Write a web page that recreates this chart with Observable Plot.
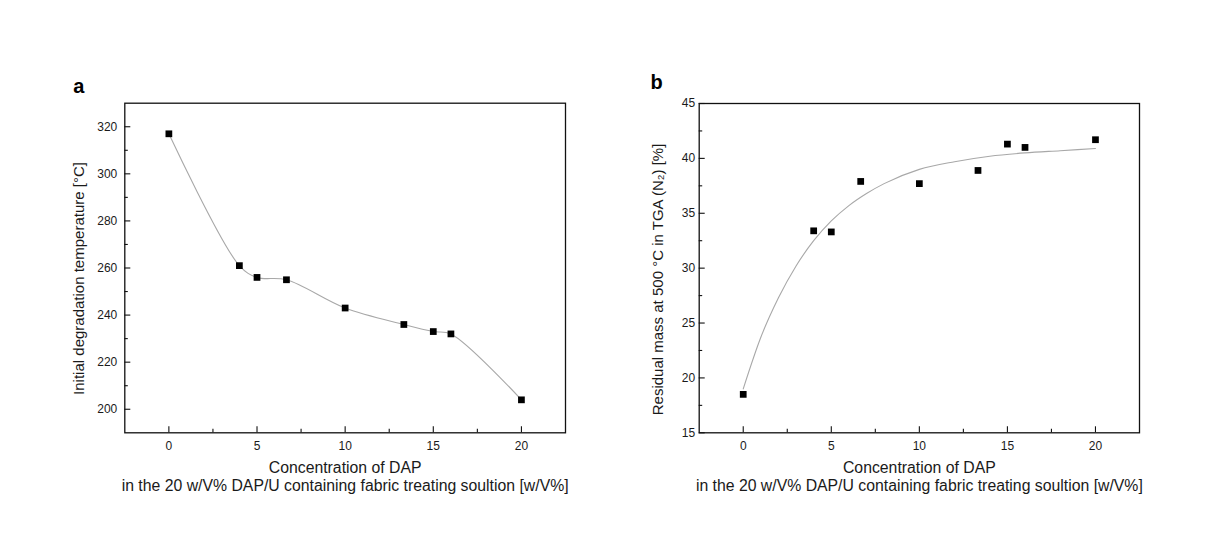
<!DOCTYPE html>
<html><head><meta charset="utf-8">
<script src="https://cdn.jsdelivr.net/npm/d3@7"></script>
<script src="https://cdn.jsdelivr.net/npm/@observablehq/plot@0.6"></script>
<style>
body{margin:0;background:#fff;width:1208px;height:553px;position:relative;overflow:hidden;font-family:Arial,"Liberation Sans",sans-serif}
.panel{position:absolute}
</style></head><body>
<div id="pa" class="panel" style="left:0;top:60px"></div>
<div id="pb" class="panel" style="left:580px;top:60px"></div>
<script>
// ---- data ----
const conc = [0, 4, 5, 6.67, 10, 13.33, 15, 16, 20];
const tempA = [317, 261, 256, 255, 243, 236, 233, 232, 204];
const massB = [18.5, 33.4, 33.3, 37.9, 37.7, 38.9, 41.3, 41.0, 41.7];
// fitted curve in panel b
const fitX = [0, 1, 2, 3, 4, 5, 6, 7, 8, 10, 12, 14, 16, 18, 20];
const fitY = [19.0, 23.7, 27.3, 30.2, 32.5, 34.3, 35.7, 36.8, 37.7, 39.0, 39.7, 40.2, 40.5, 40.7, 40.9];
const xMajor = [0, 5, 10, 15, 20];
const xMinor = [2.5, 7.5, 12.5, 17.5];
const yMajorA = [200, 220, 240, 260, 280, 300, 320];
const yMinorA = [210, 230, 250, 270, 290, 310];
const yMajorB = [15, 20, 25, 30, 35, 40, 45];
const yMinorB = [17.5, 22.5, 27.5, 32.5, 37.5, 42.5];
const xLabel1 = "Concentration of DAP";
const xLabel2 = "in the 20 w/V% DAP/U containing fabric treating soultion [w/V%]";
const yLabelA = "Initial degradation temperature [°C]";
const yLabelB = "Residual mass at 500 °C in TGA (N₂) [%]";

const dataA = conc.map((c, i) => ({x: c, y: tempA[i]}));
const dataB = conc.map((c, i) => ({x: c, y: massB[i]}));
const fitB = fitX.map((c, i) => ({x: c, y: fitY[i]}));

function panel({width, height, mL, mR, mT, mB, yDomain, yMajor, yMinor, yPad, pts, curvePts, curve, yLabel, ylDx, ylDy, letter, lDx, lDy}) {
  const fw = width - mL - mR, fh = height - mT - mB;
  return Plot.plot({
    width, height, marginLeft: mL, marginRight: mR, marginTop: mT, marginBottom: mB,
    style: {fontFamily: "Arial, 'Liberation Sans', sans-serif", fontSize: "12px", color: "#1a1a1a", background: "white"},
    x: {domain: [-2.5, 22.5]},
    y: {domain: yDomain},
    marks: [
      Plot.axisX({ticks: xMajor, tickSize: 0, tickPadding: 9, label: null, fontSize: 12}),
      Plot.axisY({ticks: yMajor, tickSize: 0, tickPadding: yPad, label: null, fontSize: 12}),
      Plot.tickX(xMajor, {x: d => d, insetTop: fh - 6, stroke: "#111", strokeWidth: 1.1}),
      Plot.tickX(xMinor, {x: d => d, insetTop: fh - 3.5, stroke: "#111", strokeWidth: 1.1}),
      Plot.tickY(yMajor, {y: d => d, insetRight: fw - 6, stroke: "#111", strokeWidth: 1.1}),
      Plot.tickY(yMinor, {y: d => d, insetRight: fw - 3.5, stroke: "#111", strokeWidth: 1.1}),
      Plot.line(curvePts, {x: "x", y: "y", curve, stroke: "#a8a8a8", strokeWidth: 1.1}),
      Plot.dot(pts, {x: "x", y: "y", symbol: "square", r: 3.8, fill: "#000", stroke: "none"}),
      Plot.frame({stroke: "#111", strokeWidth: 1.3}),
      Plot.text([yLabel], {text: d => d, frameAnchor: "left", textAnchor: "middle", lineAnchor: "middle", rotate: -90, dx: ylDx, dy: ylDy, fontSize: 15, fill: "#1a1a1a"}),
      Plot.text([xLabel1], {text: d => d, frameAnchor: "bottom", textAnchor: "middle", lineAnchor: "middle", dy: 35, fontSize: 15.8, fill: "#1a1a1a"}),
      Plot.text([xLabel2], {text: d => d, frameAnchor: "bottom", textAnchor: "middle", lineAnchor: "middle", dy: 53, fontSize: 15.8, fill: "#1a1a1a"}),
      Plot.text([letter], {text: d => d, frameAnchor: "top-left", textAnchor: "start", lineAnchor: "middle", dx: lDx, dy: lDy, fontSize: 20, fontWeight: "bold", fill: "#000"})
    ]
  });
}

document.getElementById("pa").append(panel({
  width: 580, height: 440, mL: 124.3, mR: 15, mT: 42.7, mB: 67.7,
  yDomain: [190, 330], yMajor: yMajorA, yMinor: yMinorA, yPad: 7.5,
  pts: dataA, curvePts: dataA, curve: "catmull-rom",
  yLabel: yLabelA, ylDx: -46, ylDy: 10.5, letter: "a", lDx: -51.6, lDy: -16.4
}));
document.getElementById("pb").append(panel({
  width: 600, height: 440, mL: 118.7, mR: 41, mT: 43, mB: 67.7,
  yDomain: [15, 45], yMajor: yMajorB, yMinor: yMinorB, yPad: 4,
  pts: dataB, curvePts: fitB, curve: "monotone-x",
  yLabel: yLabelB, ylDx: -40.7, ylDy: 11.3, letter: "b", lDx: -48.7, lDy: -21.4
}));
</script></body></html>
